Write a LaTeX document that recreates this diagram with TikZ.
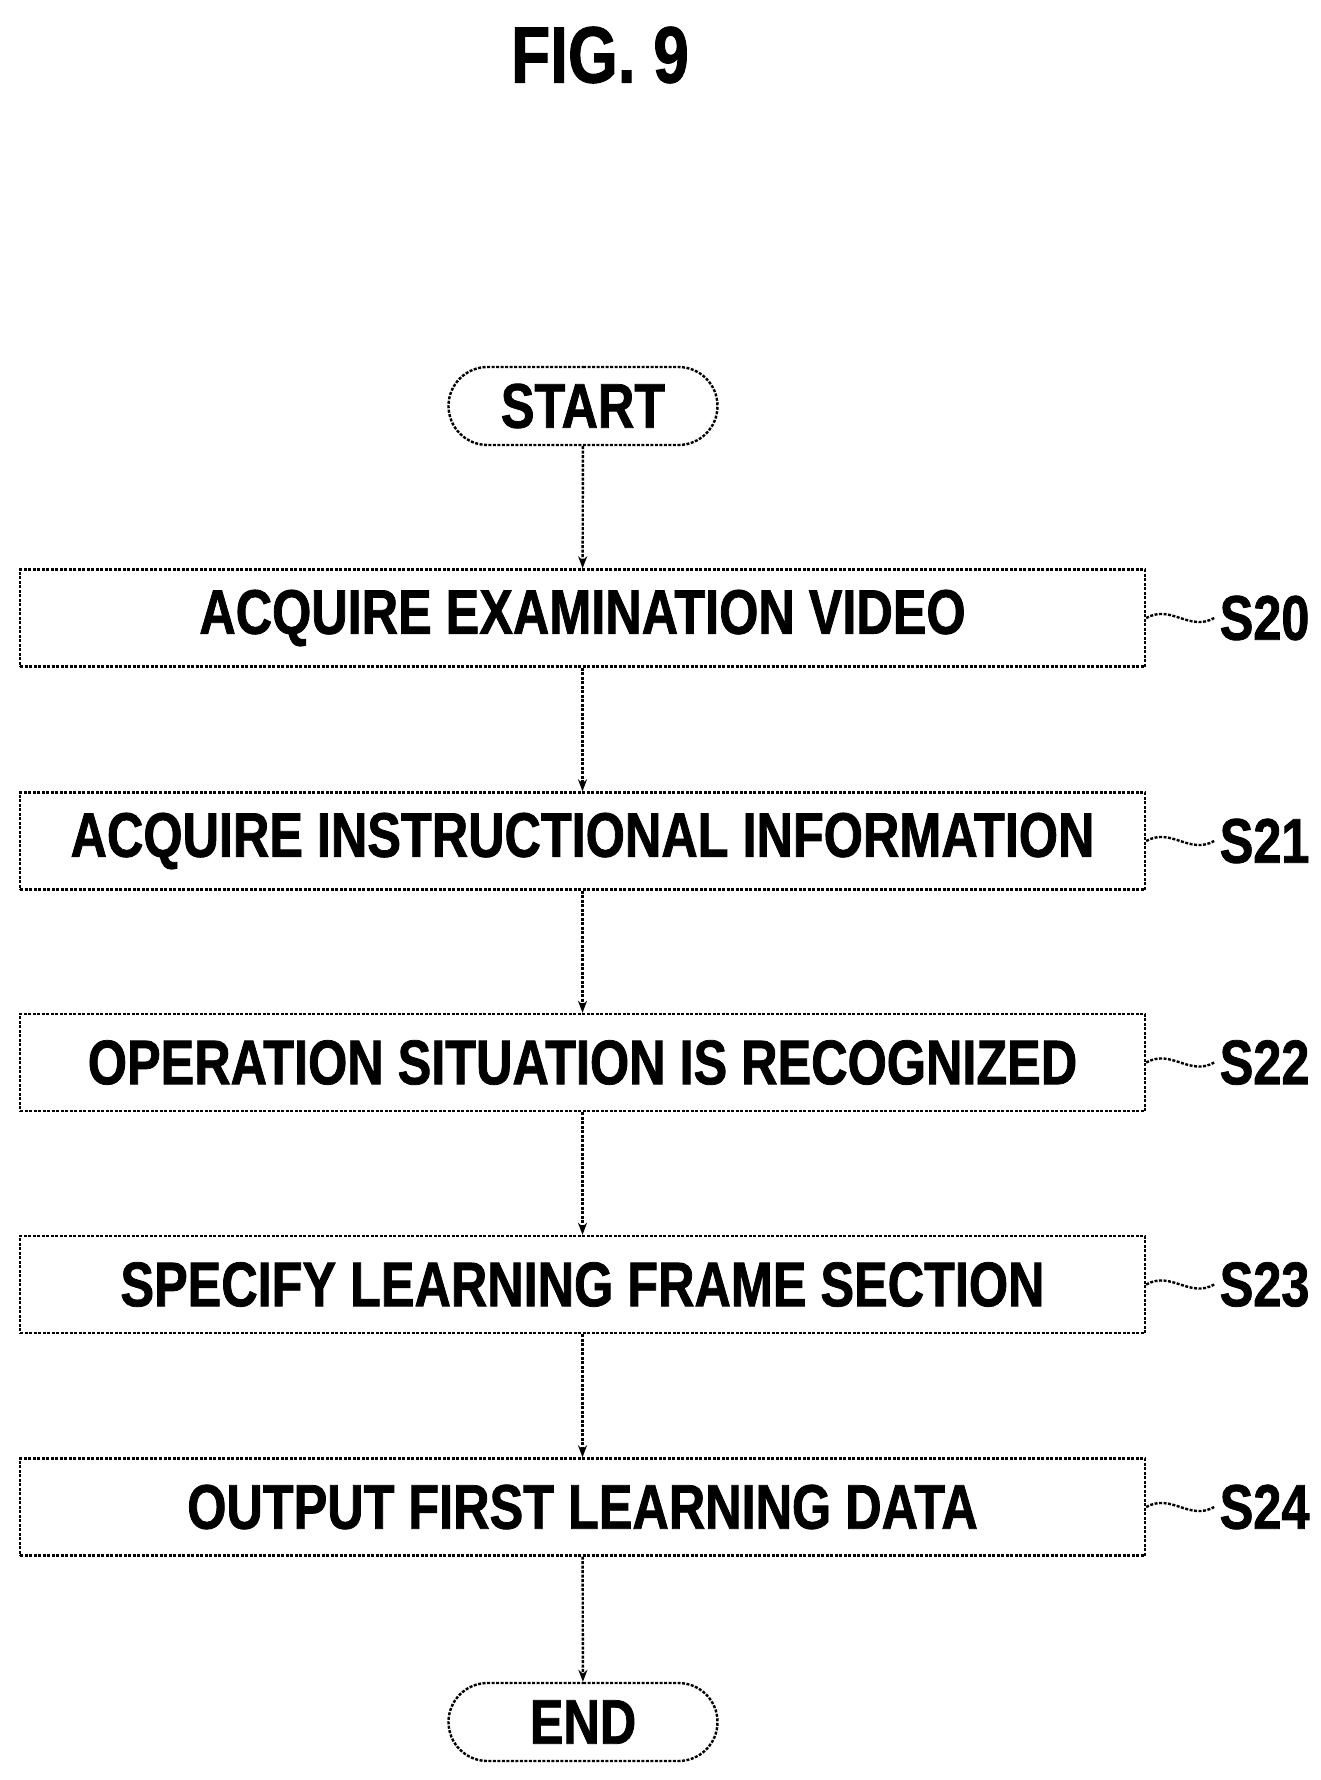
\documentclass[tikz,border=0pt]{standalone}
\usepackage{fontspec}
\setmainfont{Liberation Sans}[FakeStretch=0.8,FakeBold=1.2]
\usetikzlibrary{arrows.meta,shapes.misc}
\begin{document}
\begin{tikzpicture}[x=1pt,y=1pt,
  ln/.style={line width=2.4pt,dash pattern=on 3pt off 1.5pt},
  stepbox/.style={ln,draw,minimum width=1125pt,minimum height=97pt,inner sep=0pt,font=\fontsize{63}{63}\selectfont\bfseries},
  term/.style={ln,draw,rounded rectangle,minimum width=269pt,minimum height=78pt,inner sep=0pt,font=\fontsize{63}{63}\selectfont\bfseries},
  arr/.style={ln,-{Stealth[length=12pt,width=9pt]}},
  lab/.style={font=\fontsize{63}{63}\selectfont\bfseries,anchor=west}]
\useasboundingbox (0,0) rectangle (1321,-1780);
\node[font=\fontsize{80}{80}\selectfont\bfseries] (title) at (600,-55) {FIG. 9};
\node[term] (start) at (583,-406) {START};
\node[stepbox] (s20) at (582.5,-618) {ACQUIRE EXAMINATION VIDEO};
\node[stepbox] (s21) at (582.5,-841) {ACQUIRE INSTRUCTIONAL INFORMATION};
\node[stepbox] (s22) at (582.5,-1062.5) {OPERATION SITUATION IS RECOGNIZED};
\node[stepbox] (s23) at (582.5,-1284.5) {SPECIFY LEARNING FRAME SECTION};
\node[stepbox] (s24) at (582.5,-1507) {OUTPUT FIRST LEARNING DATA};
\node[term] (end) at (583,-1722) {END};
\draw[arr] (start) -- (s20);
\draw[arr] (s20) -- (s21);
\draw[arr] (s21) -- (s22);
\draw[arr] (s22) -- (s23);
\draw[arr] (s23) -- (s24);
\draw[arr] (s24) -- (end);
\foreach \s in {20,21,22,23,24}{
  \node[lab] (l\s) at ([xshift=70pt]s\s.east) {S\s};
  \draw[ln] (s\s.east) .. controls ++(25,14) and ++(-25,-14) .. ([xshift=-2pt]l\s.west);
}
\end{tikzpicture}
\end{document}
